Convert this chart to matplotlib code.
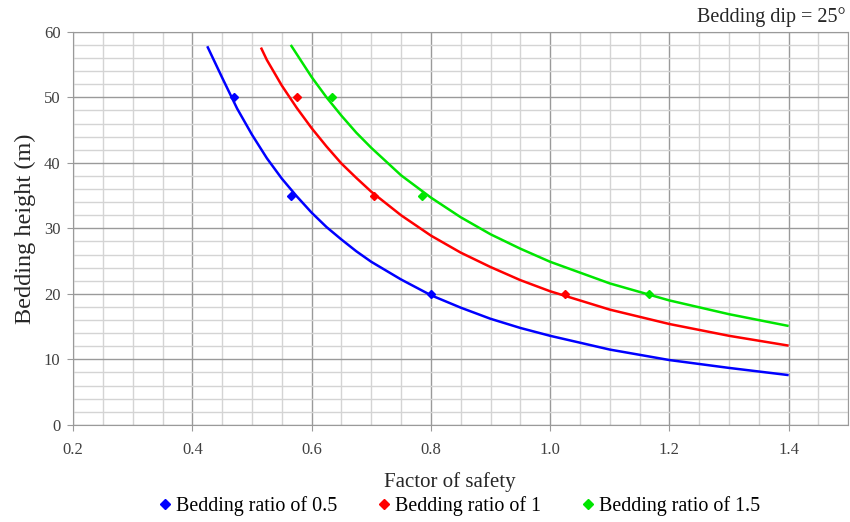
import numpy as np
import matplotlib.pyplot as plt
from matplotlib.ticker import MultipleLocator

plt.rcParams['font.family'] = ['Liberation Serif', 'DejaVu Serif']

# measured points (factor of safety, bedding height)
labels = ['Bedding ratio of 0.5', 'Bedding ratio of 1', 'Bedding ratio of 1.5']
colors = ['#0000ff', '#ff0000', '#00e600']

pts_x = [[0.47, 0.565, 0.80],
         [0.575, 0.705, 1.025],
         [0.635, 0.785, 1.165]]
pts_y = [[50, 35, 20],
         [50, 35, 20],
         [50, 35, 20]]

# trend lines
blue_x = [0.425, 0.45, 0.475, 0.5, 0.525, 0.55, 0.575, 0.6, 0.625, 0.65, 0.675, 0.7,
          0.75, 0.8, 0.85, 0.9, 0.95, 1.0, 1.1, 1.2, 1.3, 1.4]
blue_y = [57.8, 53.0, 48.3, 44.3, 40.7, 37.6, 34.9, 32.4, 30.2, 28.3, 26.5, 24.9,
          22.2, 19.8, 17.9, 16.2, 14.8, 13.6, 11.5, 9.9, 8.7, 7.6]
red_x = [0.515, 0.525, 0.55, 0.575, 0.6, 0.625, 0.65, 0.675, 0.7, 0.75, 0.8, 0.85,
         0.9, 0.95, 1.0, 1.1, 1.2, 1.3, 1.4]
red_y = [57.6, 55.7, 51.8, 48.4, 45.3, 42.5, 39.9, 37.7, 35.6, 32.0, 28.9, 26.3,
         24.1, 22.1, 20.4, 17.6, 15.4, 13.6, 12.1]
green_x = [0.565, 0.575, 0.6, 0.625, 0.65, 0.675, 0.7, 0.75, 0.8, 0.85, 0.9, 0.95,
           1.0, 1.1, 1.2, 1.3, 1.4]
green_y = [58.0, 56.6, 53.1, 50.0, 47.2, 44.6, 42.3, 38.1, 34.7, 31.7, 29.1, 26.9,
           24.9, 21.6, 19.0, 16.9, 15.1]
curves = [(blue_x, blue_y), (red_x, red_y), (green_x, green_y)]

fig = plt.figure(figsize=(8.5, 5.22), dpi=100)
ax = fig.add_axes([0.086, 0.186, 0.912, 0.753])

for (cx, cy), px, py, c, lab in zip(curves, pts_x, pts_y, colors, labels):
    ax.plot(cx, cy, color=c, lw=1.8, solid_capstyle='butt', zorder=3)
    ax.plot(px, py, 'D', color=c, ms=4.5, lw=0, label=lab, zorder=4)

ax.set_xlim(0.2, 1.5)
ax.set_ylim(0, 60)
ax.xaxis.set_minor_locator(MultipleLocator(0.05))
ax.yaxis.set_major_locator(MultipleLocator(10))
ax.yaxis.set_minor_locator(MultipleLocator(2))
ax.set_xticks(np.arange(0.2, 1.41, 0.2))
ax.set_xticklabels(['0.2', '0.4', '0.6', '0.8', '1.0', '1.2', '1.4'])
ax.grid(which='minor', color='#d4d4d4', lw=1.0)
ax.grid(which='major', color='#9a9a9a', lw=1.0)
ax.set_axisbelow(True)
ax.tick_params(which='minor', length=0)
ax.tick_params(which='major', length=4, color='#9a9a9a', labelsize=12, colors='#404040')
ax.tick_params(axis='y', pad=5)
ax.tick_params(axis='x', pad=8)
for s in ax.spines.values():
    s.set_color('#9a9a9a')

ax.set_xlabel('Factor of safety', fontsize=15, color='#262626')
ax.xaxis.set_label_coords(0.486, -0.119)
ax.set_ylabel('Bedding height (m)', fontsize=17.5, color='#262626', labelpad=6)

fig.text(0.995, 0.968, 'Bedding dip = 25°', ha='right', va='center', fontsize=14.5, color='#262626')

fig.legend(loc='center', bbox_to_anchor=(0.538, 0.03), ncol=3, frameon=False,
           fontsize=14.4, handletextpad=0.05, columnspacing=1.85, markerscale=1.1,
           handlelength=1.0)

fig.savefig('out.png', dpi=100)
